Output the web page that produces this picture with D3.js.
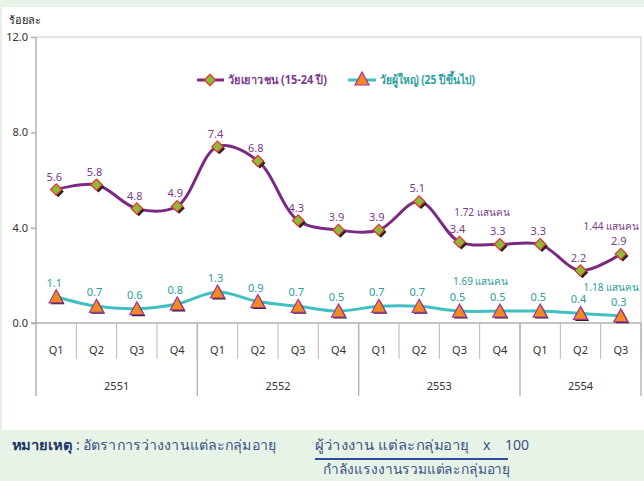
<!doctype html>
<html>
<head>
<meta charset="utf-8">
<script src="https://cdnjs.cloudflare.com/ajax/libs/d3/7.8.5/d3.min.js"></script>
<style>
  body { margin: 0; background: #e7f3e7; }
  svg { display: block; }
  text { font-family: Tahoma, "Noto Sans", "DejaVu Sans", sans-serif; }
  .tick text { font-size: 11px; fill: #333; }
</style>
</head>
<body>
<svg id="chart" width="644" height="481"></svg>
<script>
// quarters and years (Thai Buddhist calendar)
var quarters = ["Q1","Q2","Q3","Q4","Q1","Q2","Q3","Q4","Q1","Q2","Q3","Q4","Q1","Q2","Q3"];
var years = ["2551","2552","2553","2554"];
var yearSpan = [4, 4, 4, 3];

// unemployment rate, percent
var youth = [5.6, 5.8, 4.8, 4.9, 7.4, 6.8, 4.3, 3.9, 3.9, 5.1, 3.4, 3.3, 3.3, 2.2, 2.9];
var adult = [1.1, 0.7, 0.6, 0.8, 1.3, 0.9, 0.7, 0.5, 0.7, 0.7, 0.5, 0.5, 0.5, 0.4, 0.3];

var yTicks = [0, 4, 8, 12];

// headcount notes (แสนคน), placed in chart units
var notes = [
  {i: 9.87, v: 4.66, text: "1.72 แสนคน", cls: "y", anchor: "start"},
  {i: 14.45, v: 4.07, text: "1.44 แสนคน", cls: "y", anchor: "end"},
  {i: 9.84, v: 1.76, text: "1.69 แสนคน", cls: "a", anchor: "start"},
  {i: 14.45, v: 1.52, text: "1.18 แสนคน", cls: "a", anchor: "end"}
];

var purple = "#7a2a82", purpleText = "#7b3a8d";
var teal = "#40c0c0", tealText = "#2a9e9e";

var svg = d3.select("#chart");

// white panel
svg.append("rect").attr("x", 2).attr("y", 7).attr("width", 642).attr("height", 423).attr("fill", "#fff");

var pL = 36, pR = 641, pT = 37, pB = 323;

var x = d3.scaleBand().domain(d3.range(quarters.length)).range([pL, pR]).padding(0);
var xi = d3.scaleLinear().domain([-0.5, quarters.length - 0.5]).range([pL, pR]);
var y = d3.scaleLinear().domain([0, 12]).range([pB, pT]);

// plot border top/right
svg.append("path")
  .attr("d", "M" + pL + "," + pT + "H" + pR + "V" + pB)
  .attr("fill", "none").attr("stroke", "#dcdcdc").attr("stroke-width", 1.5);

// y axis
var yAxis = svg.append("g")
  .attr("transform", "translate(" + pL + ",0)")
  .call(d3.axisLeft(y).tickValues(yTicks).tickFormat(d3.format(".1f")).tickSize(5).tickPadding(3));
yAxis.select(".domain").remove();
yAxis.selectAll(".tick line").attr("stroke", "#b0b0b0").attr("stroke-width", 1.5);
yAxis.selectAll(".tick text").style("font-size", "11px").attr("fill", "#222");

svg.append("text").attr("x", 9).attr("y", 24).text("ร้อยละ")
  .style("font-size", "11px").attr("fill", "#222");

// vertical axis line, continues through category area
svg.append("line").attr("x1", pL).attr("x2", pL).attr("y1", pT).attr("y2", 396)
  .attr("stroke", "#b0b0b0").attr("stroke-width", 1.5);

// baseline
svg.append("line").attr("x1", pL - 5).attr("x2", pR).attr("y1", pB).attr("y2", pB)
  .attr("stroke", "#b0b0b0").attr("stroke-width", 1.5);

// quarter separators
svg.selectAll(".qsep").data(d3.range(1, quarters.length + 1)).enter().append("line")
  .attr("class", "qsep")
  .attr("x1", d => d < quarters.length ? x(d) : pR)
  .attr("x2", d => d < quarters.length ? x(d) : pR)
  .attr("y1", pB).attr("y2", 359)
  .attr("stroke", "#b8b8b8").attr("stroke-width", 1);

// year separators
var yearEdges = [];
var acc = 0;
yearSpan.forEach(function(s) { acc += s; yearEdges.push(acc); });
svg.selectAll(".ysep").data(yearEdges).enter().append("line")
  .attr("x1", d => xi(d - 0.5)).attr("x2", d => xi(d - 0.5))
  .attr("y1", pB).attr("y2", 396)
  .attr("stroke", "#b8b8b8").attr("stroke-width", 1.5);

// quarter labels
svg.selectAll(".qlab").data(quarters).enter().append("text")
  .attr("x", (d, i) => x(i) + x.bandwidth() / 2).attr("y", 354)
  .attr("text-anchor", "middle").text(d => d)
  .style("font-size", "11px").attr("fill", "#333");

// year labels
svg.selectAll(".ylab").data(years).enter().append("text")
  .attr("x", (d, i) => (xi(yearEdges[i] - 0.5) + xi(yearEdges[i] - yearSpan[i] - 0.5)) / 2)
  .attr("y", 390).attr("text-anchor", "middle").text(d => d)
  .style("font-size", "11px").attr("fill", "#333");

var line = d3.line().x((d, i) => xi(i)).y(d => y(d)).curve(d3.curveCatmullRom.alpha(0.5));

svg.append("path").datum(adult).attr("d", line)
  .attr("fill", "none").attr("stroke", teal).attr("stroke-width", 3);
svg.append("path").datum(youth).attr("d", line)
  .attr("fill", "none").attr("stroke", purple).attr("stroke-width", 3);

var diamond = d3.symbol().type(d3.symbolSquare).size(64)();
var tri = "M0,-7L7,6L-7,6Z";

function drawDiamond(g, cx, cy) {
  g.append("path").attr("d", diamond).attr("transform", "translate(" + (cx + 2) + "," + (cy + 2) + ") rotate(45)")
    .attr("fill", "#222");
  g.append("path").attr("d", diamond).attr("transform", "translate(" + cx + "," + cy + ") rotate(45)")
    .attr("fill", "#8cbb3a").attr("stroke", "#e8312a").attr("stroke-width", 1.2);
}
function drawTri(g, cx, cy) {
  g.append("path").attr("d", tri).attr("transform", "translate(" + (cx + 1.5) + "," + (cy + 1.5) + ")")
    .attr("fill", "#222");
  g.append("path").attr("d", tri).attr("transform", "translate(" + cx + "," + cy + ")")
    .attr("fill", "#f28a1e").attr("stroke", "#a0359a").attr("stroke-width", 1.2);
}

var mk = svg.append("g");
adult.forEach((d, i) => drawTri(mk, xi(i), y(d)));
youth.forEach((d, i) => drawDiamond(mk, xi(i), y(d)));

// value labels
svg.selectAll(".vy").data(youth).enter().append("text")
  .attr("x", (d, i) => xi(i) - 2).attr("y", d => y(d) - 9)
  .attr("text-anchor", "middle").text(d => d3.format(".1f")(d))
  .style("font-size", "11px").attr("fill", purpleText);
svg.selectAll(".va").data(adult).enter().append("text")
  .attr("x", (d, i) => xi(i) - 2).attr("y", d => y(d) - 10)
  .attr("text-anchor", "middle").text(d => d3.format(".1f")(d))
  .style("font-size", "11px").attr("fill", tealText);

svg.selectAll(".note").data(notes).enter().append("text")
  .attr("x", d => xi(d.i)).attr("y", d => y(d.v) + 4)
  .attr("text-anchor", d => d.anchor)
  .text(d => d.text)
  .style("font-size", "10px").attr("fill", d => d.cls == "y" ? purpleText : tealText);

// legend
var lg = svg.append("g");
lg.append("line").attr("x1", 197).attr("x2", 224).attr("y1", 80).attr("y2", 80)
  .attr("stroke", purple).attr("stroke-width", 3);
lg.append("path").attr("d", diamond).attr("transform", "translate(210,80) rotate(45)")
  .attr("fill", "#8cbb3a").attr("stroke", "#e8312a").attr("stroke-width", 1.2);
lg.append("text").attr("x", 228).attr("y", 84).text("วัยเยาวชน (15-24 ปี)")
  .attr("textLength", 99).attr("lengthAdjust", "spacingAndGlyphs")
  .style("font-size", "12px").style("font-weight", "bold").attr("fill", purpleText);
lg.append("line").attr("x1", 348).attr("x2", 376).attr("y1", 80).attr("y2", 80)
  .attr("stroke", teal).attr("stroke-width", 3);
lg.append("path").attr("d", tri).attr("transform", "translate(362,79)")
  .attr("fill", "#f28a1e").attr("stroke", "#a0359a").attr("stroke-width", 1.2);
lg.append("text").attr("x", 380).attr("y", 84).text("วัยผู้ใหญ่ (25 ปีขึ้นไป)")
  .attr("textLength", 95).attr("lengthAdjust", "spacingAndGlyphs")
  .style("font-size", "12px").style("font-weight", "bold").attr("fill", tealText);

// footnote
var ft = svg.append("g").style("font-size", "14px");
ft.append("text").attr("x", 12).attr("y", 450).text("หมายเหตุ")
  .attr("textLength", 60).attr("lengthAdjust", "spacingAndGlyphs")
  .style("font-weight", "bold").attr("fill", "#1f3566");
ft.append("text").attr("x", 76).attr("y", 450).text(":").attr("fill", "#3b5286");
ft.append("text").attr("x", 83).attr("y", 450).text("อัตราการว่างงานแต่ละกลุ่มอายุ")
  .attr("textLength", 193).attr("lengthAdjust", "spacingAndGlyphs").attr("fill", "#3b5286");
ft.append("text").attr("x", 315).attr("y", 450).text("ผู้ว่างงาน แต่ละกลุ่มอายุ")
  .attr("textLength", 154).attr("lengthAdjust", "spacingAndGlyphs").attr("fill", "#3b5286");
ft.append("text").attr("x", 483).attr("y", 450).text("x").attr("fill", "#3b5286");
ft.append("text").attr("x", 505).attr("y", 450).text("100").attr("fill", "#3b5286");
ft.append("line").attr("x1", 315).attr("x2", 508).attr("y1", 459).attr("y2", 459)
  .attr("stroke", "#2e4a9a").attr("stroke-width", 2);
ft.append("text").attr("x", 323).attr("y", 474).text("กำลังแรงงานรวมแต่ละกลุ่มอายุ")
  .attr("textLength", 187).attr("lengthAdjust", "spacingAndGlyphs").attr("fill", "#3b5286");
</script>
</body>
</html>
